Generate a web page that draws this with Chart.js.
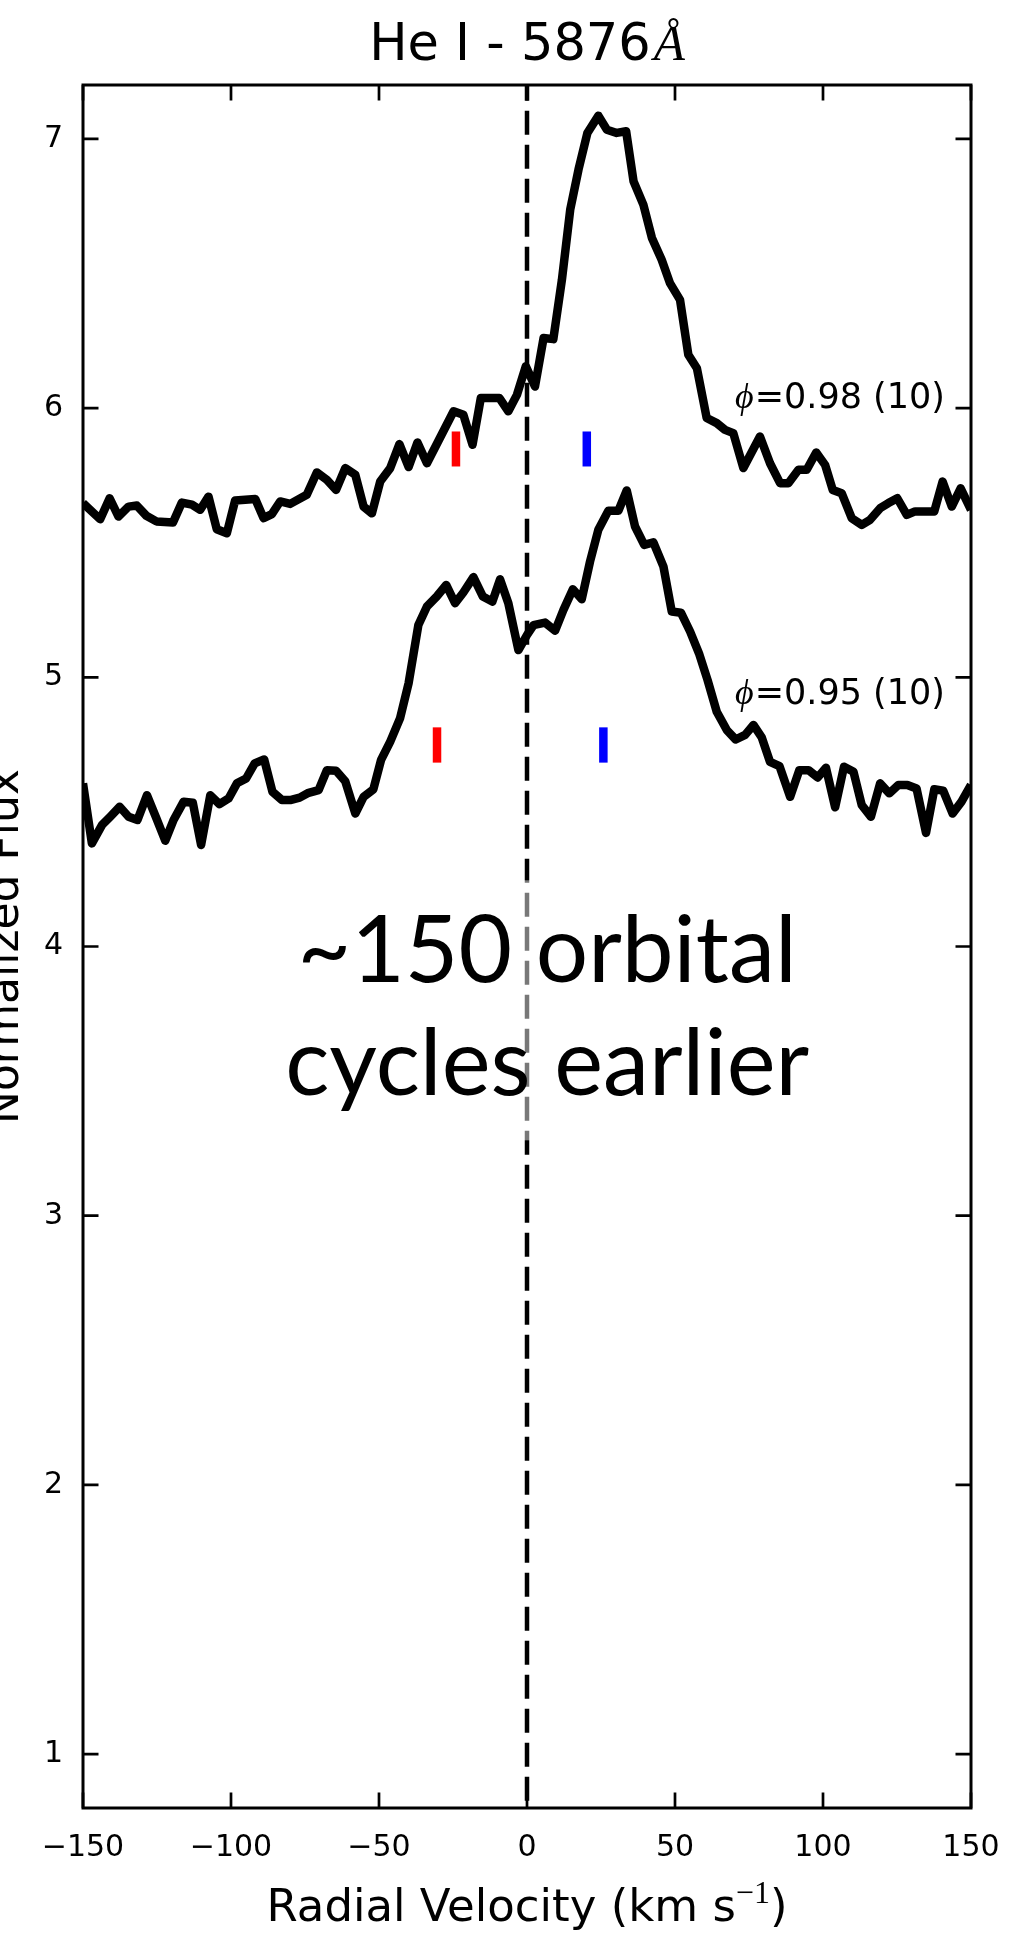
<!DOCTYPE html>
<html>
<head>
<meta charset="utf-8">
<title>He I 5876</title>
<script src="https://cdn.jsdelivr.net/npm/chart.js@4.4.1/dist/chart.umd.min.js"></script>
<style>
  html, body { margin: 0; padding: 0; background: #fff; }
  canvas { display: block; }
</style>
</head>
<body>
<canvas id="heliumProfile" width="1024" height="1944"></canvas>
<script>
// upper spectrum, phi = 0.98
const velUpper = [-150.0, -144.2, -141.0, -138.0, -134.6, -131.8, -128.6, -125.2, -119.6, -116.6,
    -113.2, -110.4, -107.6, -104.8, -101.4, -98.6, -91.8, -89.0, -86.2, -83.4,
    -80.0, -74.4, -71.0, -67.6, -64.5, -61.4, -58.0, -55.2, -52.4, -49.6,
    -46.2, -43.1, -40.0, -37.0, -33.8, -24.8, -21.5, -18.4, -15.6, -9.3,
    -6.3, -3.4, -0.4, 2.7, 5.6, 8.9, 11.8, 14.6, 17.4, 20.4,
    24.1, 27.0, 30.3, 33.5, 36.0, 39.3, 42.2, 45.5, 48.3, 51.7,
    54.5, 57.4, 60.7, 64.1, 66.9, 69.7, 73.1, 78.7, 82.1, 85.5,
    88.3, 91.7, 94.5, 97.7, 100.7, 103.3, 106.3, 109.7, 113.1, 115.9,
    119.3, 122.1, 125.1, 128.3, 131.1, 137.6, 140.4, 143.5, 146.5, 150.0];
const fluxUpper = [5.647, 5.587, 5.665, 5.597, 5.634, 5.638, 5.600, 5.579, 5.575, 5.649,
    5.641, 5.622, 5.671, 5.550, 5.535, 5.657, 5.662, 5.591, 5.606, 5.653,
    5.644, 5.678, 5.761, 5.733, 5.696, 5.777, 5.752, 5.634, 5.609, 5.727,
    5.777, 5.866, 5.781, 5.872, 5.795, 5.988, 5.975, 5.864, 6.037, 6.037,
    5.988, 6.049, 6.155, 6.080, 6.260, 6.256, 6.477, 6.737, 6.886, 7.022,
    7.086, 7.034, 7.022, 7.028, 6.842, 6.756, 6.632, 6.551, 6.464, 6.402,
    6.198, 6.148, 5.963, 5.944, 5.919, 5.907, 5.777, 5.894, 5.795, 5.721,
    5.721, 5.771, 5.771, 5.835, 5.789, 5.696, 5.684, 5.591, 5.566, 5.585,
    5.628, 5.647, 5.665, 5.603, 5.616, 5.616, 5.727, 5.634, 5.702, 5.622];

// lower spectrum, phi = 0.95
const velLower = [-150.0, -147.0, -143.6, -140.8, -137.6, -134.6, -131.6, -128.4, -125.2, -122.2,
    -119.4, -116.0, -112.9, -110.1, -107.0, -103.9, -100.8, -98.0, -94.9, -92.0,
    -88.8, -86.0, -82.8, -80.0, -76.8, -73.8, -70.4, -67.6, -64.5, -61.4,
    -58.0, -55.2, -51.9, -49.3, -46.2, -42.9, -40.0, -36.7, -33.8, -30.5,
    -27.3, -24.3, -21.5, -18.1, -14.9, -11.7, -9.1, -6.3, -2.9, 0.0,
    2.2, 6.1, 9.5, 12.3, 15.5, 18.5, 21.3, 24.1, 27.5, 30.9,
    33.7, 36.5, 39.6, 42.7, 46.1, 48.9, 52.0, 55.1, 58.1, 61.0,
    64.1, 67.5, 70.5, 73.7, 76.5, 79.3, 82.1, 85.3, 88.9, 92.0,
    95.1, 98.2, 101.0, 104.1, 107.1, 110.3, 113.1, 116.2, 119.3, 122.4,
    125.5, 128.5, 131.6, 134.8, 137.6, 140.6, 143.8, 146.8, 150.0];
const fluxLower = [4.606, 4.383, 4.451, 4.482, 4.519, 4.482, 4.470, 4.562, 4.476, 4.393,
    4.470, 4.538, 4.534, 4.377, 4.562, 4.529, 4.550, 4.606, 4.624, 4.680,
    4.695, 4.575, 4.544, 4.544, 4.553, 4.571, 4.581, 4.655, 4.653, 4.614,
    4.494, 4.556, 4.584, 4.693, 4.761, 4.847, 4.978, 5.194, 5.263, 5.300,
    5.343, 5.275, 5.315, 5.372, 5.300, 5.281, 5.364, 5.275, 5.101, 5.157,
    5.194, 5.203, 5.173, 5.250, 5.327, 5.290, 5.430, 5.548, 5.619, 5.619,
    5.694, 5.560, 5.492, 5.501, 5.411, 5.244, 5.240, 5.170, 5.089, 4.990,
    4.872, 4.804, 4.769, 4.786, 4.823, 4.777, 4.686, 4.670, 4.556, 4.655,
    4.655, 4.628, 4.664, 4.517, 4.668, 4.649, 4.525, 4.482, 4.606, 4.569,
    4.600, 4.600, 4.587, 4.422, 4.584, 4.579, 4.494, 4.538, 4.600];

const xTicks = [-150, -100, -50, 0, 50, 100, 150];
const yTicks = [1, 2, 3, 4, 5, 6, 7];

// short velocity markers, first entry = upper spectrum, second = lower
const redVel = [-24.0, -30.4];
const blueVel = [20.2, 25.8];
const markLow = [5.783, 4.683];
const markHigh = [5.913, 4.814];

const phaseText = ['=0.98 (10)', '=0.95 (10)'];
const phaseY = [6.0, 4.9];
const noteLines = ['~150 orbital', 'cycles earlier'];

const sans = '"DejaVu Sans", sans-serif';
const mathFont = '"Liberation Serif", "DejaVu Serif", serif';

const toXY = (vel, flux) => vel.map((v, i) => ({ x: v, y: flux[i] }));

const markerSets = [];
[[redVel, '#ff0000'], [blueVel, '#0000ff']].forEach(([vels, col]) => {
    vels.forEach((v, i) => {
        markerSets.push({
            data: [{ x: v, y: markLow[i] }, { x: v, y: markHigh[i] }],
            borderColor: col,
            borderWidth: 8.5,
            borderCapStyle: 'butt',
            pointRadius: 0
        });
    });
});

// frame, inward ticks and all the text
const decor = {
    id: 'decor',
    afterDatasetsDraw(chart) {
        const { ctx, scales: { x, y } } = chart;
        // white veil behind the note, it greys out the dashed line
        const l = x.getPixelForValue(-82), r = x.getPixelForValue(98);
        const t = y.getPixelForValue(4.246), b = y.getPixelForValue(3.28);
        ctx.save();
        ctx.fillStyle = 'rgba(255,255,255,0.47)';
        ctx.fillRect(l, t, r - l, b - t);
        ctx.restore();
    },
    afterDraw(chart) {
        const { ctx, chartArea: a, scales: { x, y } } = chart;
        ctx.save();
        ctx.strokeStyle = '#000';
        ctx.fillStyle = '#000';

        ctx.lineWidth = 2.7;
        ctx.beginPath();
        xTicks.forEach(v => {
            const px = x.getPixelForValue(v);
            ctx.moveTo(px, a.bottom); ctx.lineTo(px, a.bottom - 15.5);
            ctx.moveTo(px, a.top); ctx.lineTo(px, a.top + 15.5);
        });
        yTicks.forEach(v => {
            const py = y.getPixelForValue(v);
            ctx.moveTo(a.left, py); ctx.lineTo(a.left + 15.5, py);
            ctx.moveTo(a.right, py); ctx.lineTo(a.right - 15.5, py);
        });
        ctx.stroke();
        ctx.lineWidth = 3;
        ctx.strokeRect(a.left, a.top, a.right - a.left, a.bottom - a.top);

        const cx = (a.left + a.right) / 2;
        ctx.textBaseline = 'alphabetic';
        ctx.textAlign = 'left';

        // title
        ctx.font = '51px ' + sans;
        const w1 = ctx.measureText('He I - 5876').width;
        ctx.font = 'italic 51px ' + mathFont;
        const w2 = ctx.measureText('\u00c5').width;
        let sx = cx - (w1 + w2 + 3) / 2;
        ctx.font = '51px ' + sans;
        ctx.fillText('He I - 5876', sx, 60);
        ctx.font = 'italic 51px ' + mathFont;
        ctx.fillText('\u00c5', sx + w1 + 3, 60);

        // x axis title with superscript
        const parts = [
            ['Radial Velocity (km s', '45px ' + sans, 0],
            ['\u22121', '32px ' + mathFont, -18],
            [')', '45px ' + sans, 0]
        ];
        let total = 0;
        parts.forEach(p => { ctx.font = p[1]; total += ctx.measureText(p[0]).width; });
        sx = cx - total / 2;
        parts.forEach(p => {
            ctx.font = p[1];
            ctx.fillText(p[0], sx, 1921 + p[2]);
            sx += ctx.measureText(p[0]).width;
        });

        // y axis title, partly off the left edge
        ctx.save();
        ctx.translate(18, (a.top + a.bottom) / 2);
        ctx.rotate(-Math.PI / 2);
        ctx.textAlign = 'center';
        ctx.font = '44px ' + sans;
        ctx.fillText('Normalized Flux', 0, 0);
        ctx.restore();

        // phase labels
        const lx = x.getPixelForValue(141.2);
        phaseText.forEach((txt, i) => {
            const ly = y.getPixelForValue(phaseY[i]);
            ctx.textAlign = 'right';
            ctx.font = '35px ' + sans;
            ctx.fillText(txt, lx, ly);
            const w = ctx.measureText(txt).width;
            ctx.font = 'italic 36px ' + mathFont;
            ctx.fillText('\u03d5', lx - w - 1, ly);
        });

        // note in the middle
        ctx.font = '100px Lato';
        const size = 100 * 524 / ctx.measureText(noteLines[1]).width;
        ctx.font = size + 'px Lato';
        ctx.textAlign = 'center';
        const nx = x.getPixelForValue(6.8);
        ctx.fillText(noteLines[0], nx, y.getPixelForValue(3.867));
        ctx.fillText(noteLines[1], nx, y.getPixelForValue(3.447));
        ctx.restore();
    }
};

new Chart(document.getElementById('heliumProfile'), {
    type: 'line',
    data: {
        datasets: [
            {
                label: 'phi 0.98',
                data: toXY(velUpper, fluxUpper),
                borderColor: '#000',
                borderWidth: 8.5,
                borderJoinStyle: 'round',
                pointRadius: 0,
                clip: 0
            },
            {
                label: 'phi 0.95',
                data: toXY(velLower, fluxLower),
                borderColor: '#000',
                borderWidth: 8.5,
                borderJoinStyle: 'round',
                pointRadius: 0,
                clip: 0
            },
            ...markerSets,
            {
                label: 'zero',
                data: [{ x: 0, y: 7.2 }, { x: 0, y: 0.8 }],
                borderColor: '#000',
                borderWidth: 4.5,
                borderDash: [24, 10],
                borderDashOffset: 8.3,
                borderCapStyle: 'butt',
                pointRadius: 0
            }
        ]
    },
    options: {
        responsive: false,
        animation: false,
        devicePixelRatio: 1,
        layout: {
            padding: { top: 85, right: 53, bottom: 0, left: 0 }
        },
        plugins: {
            legend: { display: false },
            tooltip: { enabled: false },
            title: { display: false }
        },
        scales: {
            x: {
                type: 'linear',
                min: -150,
                max: 150,
                grid: { display: false, drawTicks: false },
                border: { display: false },
                afterBuildTicks: s => { s.ticks = xTicks.map(v => ({ value: v })); },
                afterFit: s => { s.height = 136; },
                ticks: {
                    color: '#000',
                    font: { family: 'DejaVu Sans', size: 30 },
                    padding: 22,
                    maxRotation: 0,
                    autoSkip: false,
                    callback: v => v < 0 ? '\u2212' + Math.abs(v) : String(v)
                }
            },
            y: {
                type: 'linear',
                min: 0.8,
                max: 7.2,
                grid: { display: false, drawTicks: false },
                border: { display: false },
                afterBuildTicks: s => { s.ticks = yTicks.map(v => ({ value: v })); },
                afterFit: s => { s.width = 83; },
                ticks: {
                    color: '#000',
                    font: { family: 'DejaVu Sans', size: 30 },
                    padding: 20
                }
            }
        }
    },
    plugins: [decor]
});
</script>
</body>
</html>
